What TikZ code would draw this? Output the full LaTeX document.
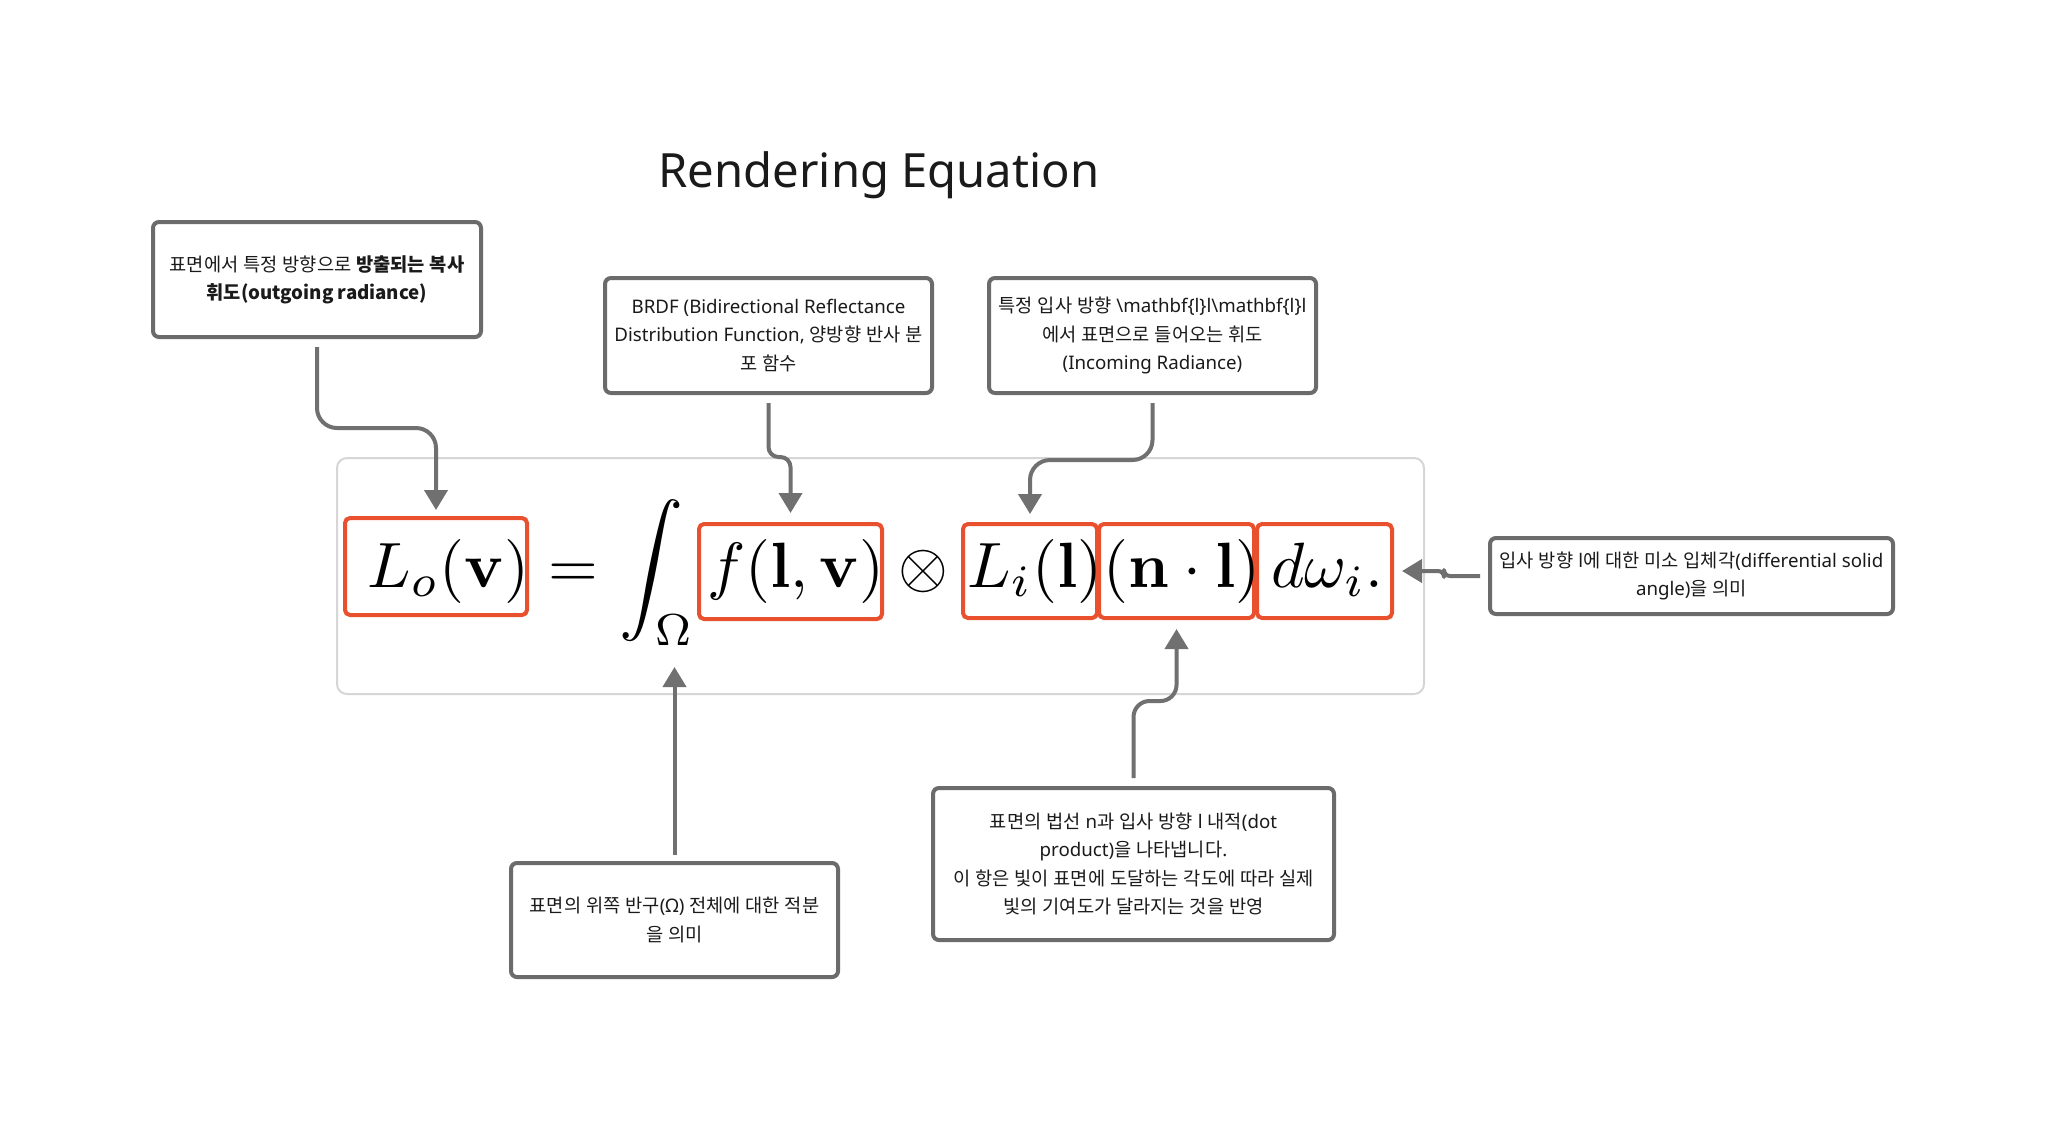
\documentclass[tikz,border=0pt]{standalone}
\usepackage{amsmath}
\usepackage[no-math]{fontspec}
\newfontfamily\notosans{Noto Sans}
\newfontfamily\krfont{Noto Sans CJK KR}
\usetikzlibrary{arrows.meta}
% automatic switch to the Korean font for Hangul syllables
\XeTeXinterchartokenstate=1
\newXeTeXintercharclass\krclass
\newcount\krc
\krc="AC00
\loop
  \XeTeXcharclass\krc=\krclass
  \ifnum\krc<"D7A3
  \advance\krc by 1
\repeat
\XeTeXinterchartoks 0 \krclass = {\krfont}
\XeTeXinterchartoks 4095 \krclass = {\krfont}
\XeTeXinterchartoks \krclass 0 = {\notosans}
\XeTeXinterchartoks \krclass 4095 = {\notosans}
\definecolor{boxgray}{HTML}{6B6B6B}
\definecolor{arrgray}{HTML}{707070}
\definecolor{eqred}{HTML}{E9502D}
\definecolor{framegray}{HTML}{D6D6D6}
\definecolor{textc}{HTML}{1A1A1A}
\tikzset{
  notebox/.style={draw=boxgray, line width=2pt, rounded corners=3pt, fill=white,
    align=center, text=textc, inner sep=0pt,
    font=\notosans\fontsize{9.35}{14.1}\selectfont},
  redbox/.style={draw=eqred, line width=2pt, rounded corners=2.5pt, inner sep=0pt},
  mathtxt/.style={inner sep=0pt, scale=3.2, transform shape, font=\fontsize{10}{12}\selectfont},
  arr/.style={draw=arrgray, line width=2pt, line join=round,
    -{Triangle[length=10pt,width=11.5pt]}},
}
\begin{document}
\begin{tikzpicture}[x=0.5pt,y=-0.5pt]
\useasboundingbox (0,0) rectangle (2048,1131);
\fill[white] (0,0) rectangle (2048,1131);

% title
\node[anchor=base, inner sep=0pt, text=textc, font=\notosans\fontsize{23.6}{28}\selectfont]
  (title) at (879,187) {Rendering Equation};

% equation frame
\node[draw=framegray, line width=1pt, rounded corners=5pt, minimum width=543.5pt,
  minimum height=118pt, inner sep=0pt] (frame) at (880.5,576) {};

% red boxes
\node[redbox, minimum width=91pt, minimum height=48.5pt] (lo) at (436,566.5) {};
\node[redbox, minimum width=91.5pt, minimum height=47.5pt] (f) at (790.5,571.5) {};
\node[redbox, minimum width=67pt, minimum height=47pt] (li) at (1030,571) {};
\node[redbox, minimum width=77.5pt, minimum height=47pt] (nl) at (1176.5,571) {};
\node[redbox, minimum width=67.5pt, minimum height=47pt] (dw) at (1324.5,571) {};

% equation pieces
\node[mathtxt, anchor=base west] (lotxt) at (366,587) {$L_o(\mathbf{v})$};
\node[mathtxt, anchor=base] (eq) at (573.5,587) {$=$};
\node[mathtxt, anchor=base west] (intg) at (618,587) {$\displaystyle\int_{\Omega}$};
\node[mathtxt, anchor=base west] (ftxt) at (706,587) {$f(\mathbf{l},\mathbf{v})$};
\node[mathtxt, anchor=base] (otimes) at (923.5,587) {$\otimes$};
\node[mathtxt, anchor=base west] (litxt) at (966,587) {$L_i(\mathbf{l})$};
\node[mathtxt, anchor=base west] (nltxt) at (1102,587) {$(\mathbf{n}\cdot\mathbf{l})$};
\node[mathtxt, anchor=base west] (dwtxt) at (1270,587) {$d\omega_i.$};
\coordinate (inttip) at (674.5,667);

% note boxes
\node[notebox, minimum width=164pt, minimum height=57.5pt] (b1) at (317,279.5)
  {표면에서 특정 방향으로 \textbf{방출되는 복사}\\{\bfseries 휘도{\krfont(outgoing radiance)}}};
\node[notebox, minimum width=163.5pt, minimum height=57.5pt] (b2) at (768.5,335.5)
  {BRDF (Bidirectional Reflectance\\Distribution Function, 양방향 반사 분\\포 함수};
\node[notebox, minimum width=163.5pt, minimum height=57.5pt] (b3) at (1152.5,335.5)
  {특정 입사 방향 \textbackslash mathbf\{l\}l\textbackslash mathbf\{l\}l\\에서 표면으로 들어오는 휘도\\(Incoming Radiance)};
\node[notebox, minimum width=201.5pt, minimum height=38pt] (b6) at (1691.5,576)
  {입사 방향 l에 대한 미소 입체각(differential solid\\angle)을 의미};
\node[notebox, minimum width=163.5pt, minimum height=57pt] (b4) at (674.5,920)
  {표면의 위쪽 반구(Ω) 전체에 대한 적분\\을 의미};
\node[notebox, minimum width=200.5pt, minimum height=76pt] (b5) at (1133.5,864)
  {표면의 법선 n과 입사 방향 l 내적(dot\\product)을 나타냅니다.\\이 항은 빛이 표면에 도달하는 각도에 따라 실제\\빛의 기여도가 달라지는 것을 반영};

% connectors
\draw[arr, rounded corners=10pt, shorten <=4pt, shorten >=3pt] (b1.south) -- ++(0,89) -| (lo.north);
\draw[arr, rounded corners=5pt, shorten <=4pt, shorten >=4.5pt] (b2.south) -- ++(0,62) -| (f.north);
\draw[arr, rounded corners=10pt, shorten <=4pt, shorten >=4pt] (b3.south) -- ++(0,65) -| (li.north);
\draw[arr, shorten <=3pt] (b4.north) -- (inttip);
\draw[arr, rounded corners=8pt, shorten <=4pt, shorten >=4.5pt] (b5.north) -- ++(0,-85) -| (nl.south);
\draw[arr, rounded corners=3pt, shorten <=4pt, shorten >=4pt] (b6.west) -- ++(-44,0) -- ++(0,-5) -- (dw.east);
\end{tikzpicture}
\end{document}
